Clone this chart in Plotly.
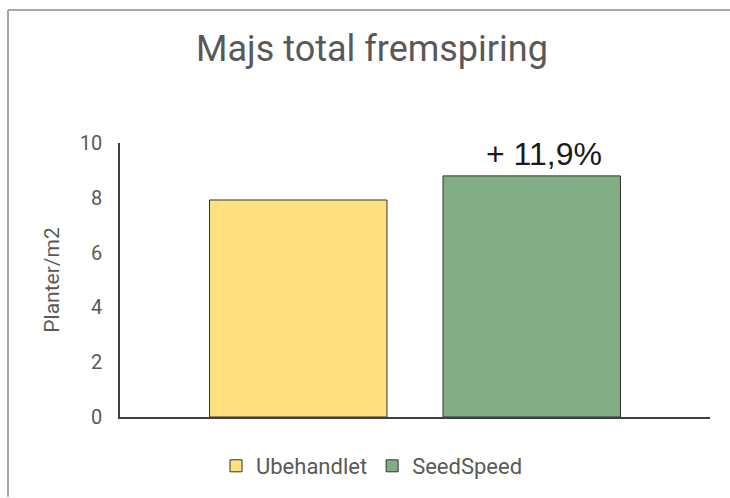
import plotly.graph_objects as go

categories = ["Majs"]
series_names = ["Ubehandlet", "SeedSpeed"]
ubehandlet = [7.92]
seedspeed = [8.8]
colors = ["#FFE07F", "#83AD85"]
y_ticks = [0, 2, 4, 6, 8, 10]
annotation_text = "+ 11,9%"

W, H = 730, 498
L, R, T, B = 120, 20, 143, 80
pw, ph = W - L - R, H - T - B

def px_x(x):
    return (x - L) / pw

def px_y(y):
    return (H - B - y) / ph

fig = go.Figure()
for name, vals, col in zip(series_names, [ubehandlet, seedspeed], colors):
    fig.add_trace(go.Bar(
        x=categories, y=vals, name=name,
        marker=dict(color=col, line=dict(color="#333333", width=1)),
    ))

fig.add_annotation(
    x=categories[0], y=seedspeed[0], xref="x", yref="y",
    text=annotation_text, showarrow=False,
    xshift=129, yshift=22,
    font=dict(family="Liberation Sans, Arial", size=32, color="#1a1a1a"),
)

fig.update_layout(
    width=W, height=H,
    margin=dict(l=L, r=R, t=T, b=B),
    paper_bgcolor="white", plot_bgcolor="white",
    barmode="group", bargap=0.2085, bargroupgap=0.24,
    title=dict(text="Majs total fremspiring", x=372 / W, xanchor="center",
               y=1 - 48 / H, yanchor="middle",
               font=dict(family="Roboto", size=36, color="#595959")),
    font=dict(family="Roboto", color="#595959", size=20),
    showlegend=True,
    legend=dict(orientation="h", x=px_x(372), xanchor="center", y=px_y(466), yanchor="middle",
                font=dict(size=22, color="#595959"), itemwidth=30,
                traceorder="normal"),
    xaxis=dict(showticklabels=False, showline=True, linecolor="#404040", linewidth=1.5,
               showgrid=False, ticks="", zeroline=False),
    yaxis=dict(range=[0, 10], tickvals=y_ticks, showline=True, linecolor="#404040",
               linewidth=1.5, showgrid=False, zeroline=False, ticks="",
               ticklabelstandoff=12,
               title=dict(text="Planter/m2", standoff=14, font=dict(size=21, color="#595959")),
               tickfont=dict(size=20, color="#595959")),
    shapes=[
        dict(type="line", xref="paper", yref="paper", x0=px_x(8), x1=px_x(730), y0=px_y(9.5), y1=px_y(9.5),
             line=dict(color="#A6A6A6", width=2)),
        dict(type="line", xref="paper", yref="paper", x0=px_x(8), x1=px_x(8), y0=px_y(9.5), y1=px_y(498),
             line=dict(color="#A6A6A6", width=2)),
    ],
)

fig.write_html("out.html", post_script="document.body.style.margin='0';",
               config={"displayModeBar": False})
